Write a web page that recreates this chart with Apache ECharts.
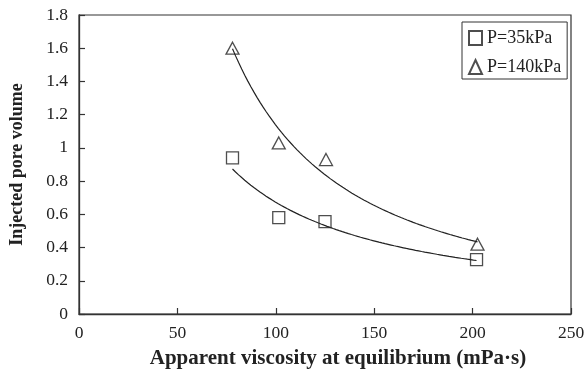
<!DOCTYPE html>
<html>
<head>
<meta charset="utf-8">
<script src="https://cdn.jsdelivr.net/npm/echarts@6/dist/echarts.min.js"></script>
<style>
  html, body { margin: 0; padding: 0; background: #fff; }
  #chart { width: 585px; height: 381px; }
</style>
</head>
<body>
<div id="chart"></div>
<script>
// Measured points: apparent viscosity (mPa·s) vs injected pore volume
const visc35 = [78, 101.5, 125, 202];
const pv35 = [0.94, 0.58, 0.556, 0.327];
const visc140 = [78, 101.5, 125.5, 202.5];
const pv140 = [1.6, 1.03, 0.93, 0.42];
const seriesNames = ['P=35kPa', 'P=140kPa'];
const xTicks = [0, 50, 100, 150, 200, 250];
const yTicks = [0, 0.2, 0.4, 0.6, 0.8, 1, 1.2, 1.4, 1.6, 1.8];

// Power-law trend y = a * x^b, least squares in log-log space
function powerFit(xs, ys) {
  const lx = xs.map(Math.log), ly = ys.map(Math.log);
  const n = xs.length;
  const mx = lx.reduce((s, v) => s + v, 0) / n;
  const my = ly.reduce((s, v) => s + v, 0) / n;
  let sxy = 0, sxx = 0;
  for (let i = 0; i < n; i++) {
    sxy += (lx[i] - mx) * (ly[i] - my);
    sxx += (lx[i] - mx) * (lx[i] - mx);
  }
  const b = sxy / sxx;
  const a = Math.exp(my - b * mx);
  const x0 = Math.min(...xs), x1 = Math.max(...xs);
  const pts = [];
  const steps = 80;
  for (let i = 0; i <= steps; i++) {
    const x = x0 + (x1 - x0) * i / steps;
    pts.push([x, a * Math.pow(x, b)]);
  }
  return pts;
}

const pair = (xs, ys) => xs.map((x, i) => [x, ys[i]]);
const font = 'Liberation Serif';
const ink = '#222';

const chart = echarts.init(document.getElementById('chart'), null, { renderer: 'canvas' });
chart.setOption({
  animation: false,
  backgroundColor: '#fff',
  textStyle: { fontFamily: font, color: ink },
  grid: {
    left: 79, right: 14, top: 15, bottom: 67,
    outerBoundsMode: 'none',
    containLabel: false,
    show: true, borderColor: '#333', borderWidth: 1.2, backgroundColor: 'transparent'
  },
  legend: {
    data: seriesNames,
    orient: 'vertical',
    left: 462, top: 22,
    padding: [7, 6, 3, 6],
    itemGap: 11,
    itemWidth: 13, itemHeight: 14,
    borderColor: '#333', borderWidth: 1,
    backgroundColor: '#fff',
    textStyle: { fontFamily: font, fontSize: 18, color: ink }
  },
  xAxis: {
    type: 'value',
    min: xTicks[0], max: xTicks[xTicks.length - 1], interval: 50,
    name: 'Apparent viscosity at equilibrium (mPa·s)',
    nameLocation: 'middle', nameGap: 34,
    nameTextStyle: { fontFamily: font, fontSize: 21, fontWeight: 'bold', color: ink, padding: [0, 0, 0, 26] },
    axisLine: { lineStyle: { color: '#333', width: 1.3 } },
    axisTick: { inside: true, length: 6, lineStyle: { color: '#333', width: 1.2 } },
    axisLabel: { margin: 10, fontFamily: font, fontSize: 17.5, color: ink },
    splitLine: { show: false }
  },
  yAxis: {
    type: 'value',
    min: yTicks[0], max: yTicks[yTicks.length - 1], interval: 0.2,
    name: 'Injected pore volume',
    nameLocation: 'middle', nameGap: 53,
    nameTextStyle: { fontFamily: font, fontSize: 18, fontWeight: 'bold', color: ink },
    axisLine: { show: true, lineStyle: { color: '#333', width: 1.3 } },
    axisTick: { show: true, inside: true, length: 6, lineStyle: { color: '#333', width: 1.2 } },
    axisLabel: {
      margin: 11, fontFamily: font, fontSize: 17.5, color: ink,
      formatter: v => String(Math.round(v * 10) / 10)
    },
    splitLine: { show: false }
  },
  series: [
    {
      name: seriesNames[0], type: 'scatter',
      data: pair(visc35, pv35),
      symbol: 'rect', symbolSize: 12,
      itemStyle: { color: '#fff', borderColor: '#222', borderWidth: 1.3 },
      z: 3
    },
    {
      name: seriesNames[1], type: 'scatter',
      data: pair(visc140, pv140),
      symbol: 'triangle', symbolSize: [13, 12],
      itemStyle: { color: '#fff', borderColor: '#222', borderWidth: 1.3 },
      z: 3
    },
    {
      name: 'trend35', type: 'line',
      data: powerFit(visc35, pv35),
      showSymbol: false, symbol: 'none', smooth: false,
      lineStyle: { color: '#222', width: 1.2 },
      z: 4, silent: true
    },
    {
      name: 'trend140', type: 'line',
      data: powerFit(visc140, pv140),
      showSymbol: false, symbol: 'none', smooth: false,
      lineStyle: { color: '#222', width: 1.2 },
      z: 4, silent: true
    }
  ]
});
</script>
</body>
</html>
